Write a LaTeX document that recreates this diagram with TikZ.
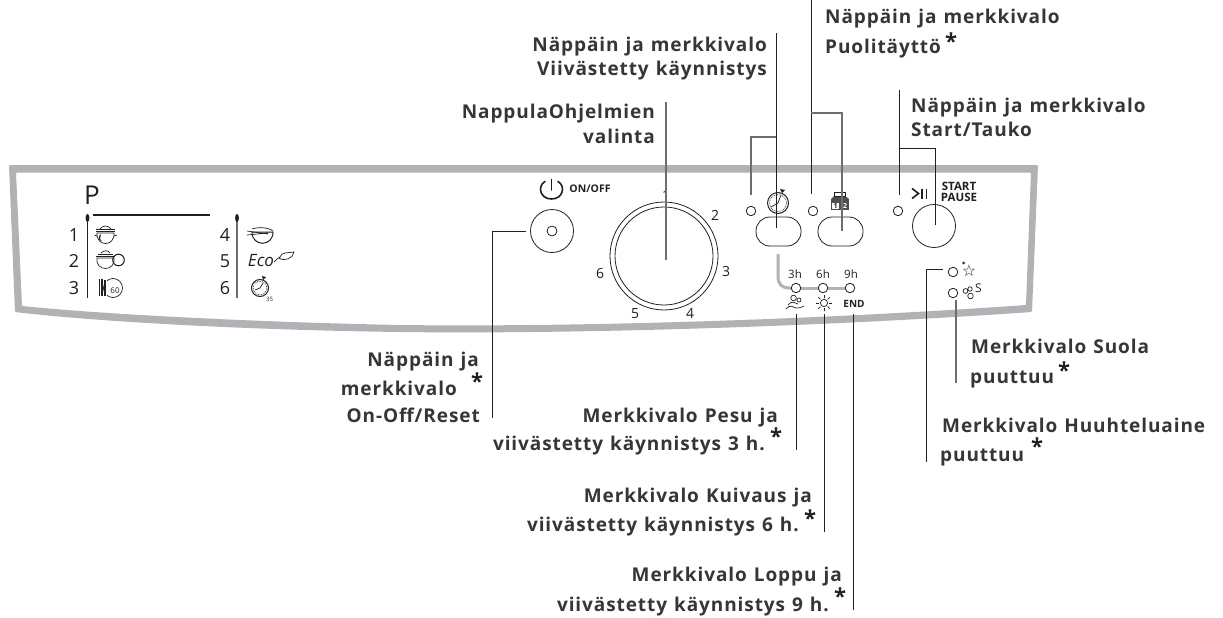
\documentclass[tikz,border=0pt]{standalone}
\usepackage{fontspec}
\setmainfont{Open Sans}
\newfontfamily\lab[LetterSpace=4.8,WordSpace=1.2]{Open Sans}
\usetikzlibrary{calc}
\definecolor{panelgray}{HTML}{B1B2B5}
\definecolor{ink}{HTML}{231F20}
\definecolor{leadgray}{HTML}{6E6E70}
\tikzset{
 x=1pt,y=-1pt,
 lead/.style={draw=ink,line width=1pt},
 leadg/.style={draw=leadgray,line width=1.2pt},
 ring/.style={circle,draw=ink,line width=.8pt,inner sep=0,fill=none},
 led/.style={ring,minimum size=9.5pt},
 pill/.style={draw=ink,line width=.8pt,rounded corners=14pt,minimum width=45pt,minimum height=29pt,inner sep=0},
 lbl/.style={font=\lab\fontsize{19}{19}\selectfont\bfseries,text=ink!90,inner sep=0,anchor=base west},
 lblr/.style={lbl,anchor=base east},
 starmark/.style={font=\fontsize{22}{22}\selectfont\bfseries,text=ink,inner sep=0,anchor=base},
 num/.style={font=\fontsize{14}{14}\selectfont,text=ink,inner sep=0},
 bignum/.style={font=\fontsize{18}{18}\selectfont,text=ink,inner sep=0},
 sm/.style={font=\fontsize{11.5}{11.5}\selectfont,text=ink,inner sep=0},
 tiny/.style={font=\fontsize{10}{10}\selectfont\bfseries,text=ink,inner sep=0},
 ic/.style={draw=ink,line width=.7pt,fill=none},
}
\begin{document}
\begin{tikzpicture}
\useasboundingbox (0,0) rectangle (1223,618);
\fill[white] (0,0) rectangle (1223,618);
% panel
\fill[panelgray,even odd rule,rounded corners=1pt]
 (9,165) -- (1038,165) -- (1032,312) .. controls (800,328) and (560,334) .. (400,332) .. controls (250,330) and (100,322) .. (15,312) -- cycle
 (16,172.5) -- (22,306) .. controls (100,314) and (250,322) .. (400,325) .. controls (560,327) and (800,321) .. (1026,305) -- (1031,172.5) -- cycle;
% program list
\node[inner sep=0,font=\fontsize{26}{26}\selectfont,text=ink] (P) at (92,195) {P};
\draw[ink,line width=2pt] (93,215) -- (210,215);
\draw[ink,line width=1pt] (87.5,216) -- (87.5,298);
\fill[ink] (87.5,218) ellipse (1.9 and 4);
\draw[leadgray,line width=1.2pt] (237,216) -- (237,298);
\fill[ink] (237,218) ellipse (1.9 and 4);
\node[bignum] (n1) at (74,235) {1};
\node[bignum] (n2) at (74,261) {2};
\node[bignum] (n3) at (74,288) {3};
\node[bignum] (n4) at (225,235) {4};
\node[bignum] (n5) at (225,261) {5};
\node[bignum] (n6) at (225,288) {6};
% pot 1
\draw[ic] (97,233) .. controls (96,247) and (115,247) .. (114,233) -- cycle;
\draw[ic] (96,231) -- (115,231) (96,229.5) -- (115,229.5);
\draw[ic] (100,229) .. controls (103,225) and (108,225) .. (111,229);
\draw[ic] (97,236) -- (94.5,235) (114,236) -- (117,235);
\fill[ink] (99,236) -- (101,234) -- (100,239) -- (102,241) -- (99,240) -- cycle;
% pot 2
\draw[ic] (97,258) .. controls (95,272) and (116,272) .. (114,258) -- cycle;
\draw[ic] (96,256) -- (115,256) (98,254) -- (113,254);
\draw[ic] (101,253) .. controls (104,250) and (108,250) .. (110,253);
\draw[ic,line width=1pt] (118.5,260) circle (5.8);
% plate 60
\draw[ic] (113,288) circle (9.5);
\fill[white] (104,278) rectangle (107,298);
\draw[ic,line width=1.1pt] (99.5,279) -- (99.5,296) (102,279) -- (102,296);
\draw[ic,line width=1.1pt] (105,280) -- (105,296);
\node[font=\fontsize{8}{8}\selectfont,text=ink,inner sep=0] (t60) at (115,291) {60};
% whisk bowl
\draw[ic,line width=1pt] (252,232) .. controls (252,247) and (273,247) .. (273,232) -- (252,232);
\draw[ic] (252,229) .. controls (258,227) and (268,227) .. (273,231);
\draw[ic] (247,231) -- (268,234) (247,235) -- (268,233);
% Eco
\node[font=\itshape\fontsize{17}{17}\selectfont,text=ink,inner sep=0] (eco) at (261,261) {Eco};
\draw[ic] (274,262) .. controls (276,260) and (277,259) .. (280,257) .. controls (281,252) and (288,253) .. (294,252) .. controls (293,258) and (285,262) .. (279,258);
% timer 35
\draw[ic,line width=1pt] (260,288) circle (8.5);
\draw[ic,densely dotted] (260,288) circle (6.8);
\draw[ic] (260,288) -- (263,283) (260,288) -- (255,290);
\fill[ink] (262,276) -- (266,277) -- (263,280) -- cycle;
\node[font=\fontsize{6}{6}\selectfont,text=ink,inner sep=0] (t35) at (269.5,299) {35};
% power
\node[ring,minimum size=43pt] (onoff) at (552,231) {};
\node[ring,minimum size=10pt] (onoffin) at (552,231) {};
\draw[ink,line width=1.6pt,line cap=round] (545,181.5) .. controls (537,186) and (540,199) .. (551.5,199) .. controls (563,199) and (566,186) .. (558,181.5);
\draw[ink,line width=1.6pt,line cap=round] (551.5,179.5) -- (551.5,190);
\node[font=\fontsize{10.5}{10.5}\selectfont\bfseries,text=ink,inner sep=0] (ontxt) at (590,188.5) {ON/OFF};
% selector
\node[ring,minimum size=108pt] (knob) at (664,256) {};
\node[ring,minimum size=98pt] (knobin) at (664,256) {};
\node[num] (k1) at (666,196) {1};
\node[num] (k2) at (715,215) {2};
\node[num] (k3) at (726,271) {3};
\node[num] (k4) at (690,313) {4};
\node[num] (k5) at (635,314) {5};
\node[num] (k6) at (600,273) {6};
% buttons
\node[led] (ledA) at (751,211) {};
\node[led] (ledB) at (813,211) {};
\node[led] (ledC) at (898,211) {};
\node[pill] (pillA) at (778.5,231.5) {};
\node[pill] (pillB) at (840.5,231.5) {};
\node[ring,minimum size=43pt] (start) at (934,226) {};
% timer icon
\draw[ic,line width=1pt] (778,203) circle (10.5);
\draw[ic,densely dotted,line width=.7pt] (778,203) circle (8.5);
\draw[ic] (778,203) -- (781,195) (778,203) -- (771,207);
\fill[ink] (780,189) -- (785,190) -- (782,193) -- cycle;
% half-load icon
\fill[ink!80] (831,199) rectangle (849,210);
\fill[ink!80] (831,199) -- (834,196) -- (845,196) -- (849,199) -- cycle;
\draw[ic] (834.5,196) rectangle (845.5,192.5);
\fill[white] (832,203) rectangle (839,209);
\node[font=\fontsize{7}{7}\selectfont\bfseries,text=white,inner sep=0] (half2) at (845,206) {2};
\node[font=\fontsize{7}{7}\selectfont\bfseries,text=ink,inner sep=0] (half1) at (835.5,206) {1};
% start icon
\draw[ink,line width=1.6pt] (912,188.5) -- (918.5,193.5) -- (912,198.5);
\draw[ink,line width=1.1pt] (922,188.5) -- (922,198.5) (926.5,188.5) -- (926.5,198.5);
\node[text width=44pt,align=center,inner sep=0,text=ink,font=\fontsize{11.5}{11.5}\selectfont\bfseries] (sp) at (959,192) {START\\PAUSE};
% delay lights
\draw[panelgray,line width=3pt] (778,254) -- (778,276) .. controls (778,285) and (782,288) .. (790,288);
\draw[panelgray,line width=3pt] (790,288) -- (846,288);
\node[led,fill=white] (l3) at (796,288) {};
\node[led,fill=white] (l6) at (823,288) {};
\node[led,fill=white] (l9) at (850,288) {};
\node[sm] (t3) at (795,274.5) {3h};
\node[sm] (t6) at (823,274.5) {6h};
\node[sm] (t9) at (851,274.5) {9h};
\node[tiny] (endt) at (854,303.5) {END};
% wash icon
\draw[ic] (786,309) .. controls (790,304) and (793,307) .. (796,308) .. controls (799,309) and (801,307) .. (804,306);
\draw[ic] (788,305) .. controls (792,300) and (795,303) .. (798,304);
\draw[ic] (793.5,298) circle (2.8) (799,300) circle (2) ;
% sun
\draw[ic] (824,303) circle (3.6);
\foreach \a in {0,45,...,315}{\draw[ic] ($(824,303)+(\a:5)$) -- ($(824,303)+(\a:8)$);}
% right lights
\node[led] (ledS) at (953,272) {};
\node[led] (ledR) at (953,293) {};
\node[font=\fontsize{16}{16}\selectfont,text=ink,inner sep=0] (starn) at (969,271) {\fontspec{DejaVu Sans}☆};
\draw[ic] (963.5,263) circle (1);
\draw[ic] (965.5,291) circle (2.4) (970,289) circle (2.2) (970.5,296) circle (2.8);
\node[font=\fontsize{12}{12}\selectfont,text=ink,inner sep=0] (ss) at (978.5,288) {S};
% coordinates for leads
\coordinate (a0) at (776,33);
\coordinate (a1) at (776,137);
\coordinate (a2) at (751,137);
\coordinate (a3) at (751,195);
\coordinate (a4) at (776,228);
\coordinate (b0) at (811,0);
\coordinate (b1) at (811,113);
\coordinate (b2) at (842,113);
\coordinate (b3) at (842,231);
\coordinate (b4) at (811,194);
\coordinate (c0) at (899,90);
\coordinate (c1) at (899,148);
\coordinate (c2) at (935,148);
\coordinate (c3) at (935,225);
\coordinate (c4) at (899,195);
\coordinate (d0) at (666,102);
\coordinate (d1) at (666,260);
\coordinate (e0) at (526,231);
\coordinate (e1) at (492,231);
\coordinate (e2) at (492,418);
\coordinate (f0) at (796,314);
\coordinate (f1) at (796,450);
\coordinate (g0) at (824,314);
\coordinate (g1) at (824,532);
\coordinate (h0) at (853,314);
\coordinate (h1) at (853,610);
\coordinate (i0) at (943,269);
\coordinate (i1) at (926,269);
\coordinate (i2) at (926,462);
\coordinate (j0) at (956,300);
\coordinate (j1) at (956,383);
\draw[lead] (a0) -- (a4);
\draw[leadg] (a1) -- (a2) -- (a3);
\draw[lead] (b0) -- (b4);
\draw[leadg] (b1) -- (b2) -- (b3);
\draw[lead] (c0) -- (c4);
\draw[lead] (c1) -- (c2) -- (c3);
\draw[leadg] (d0) -- (d1);
\draw[lead] (e0) -- (e1) -- (e2);
\draw[lead] (f0) -- (f1);
\draw[lead] (g0) -- (g1);
\draw[lead] (h0) -- (h1);
\draw[lead] (i0) -- (i1) -- (i2);
\draw[leadg] (j0) -- (j1);
% labels
\node[lblr] (l1a) at (767,52) {Näppäin ja merkkivalo};
\node[lblr] (l1b) at (767,75) {Viivästetty käynnistys};
\node[lbl] (l2a) at (825,24) {Näppäin ja merkkivalo};
\node[lbl] (l2b) at (825,53) {Puolitäyttö};
\node[starmark] (s2) at (951,49.4) {*};
\node[lbl] (l3a) at (911,112) {Näppäin ja merkkivalo};
\node[lbl] (l3b) at (911,136) {Start/Tauko};
\node[lblr] (l4a) at (655,118) {NappulaOhjelmien};
\node[lblr] (l4b) at (655,143) {valinta};
\node[lblr] (l5a) at (479,366) {Näppäin ja};
\node[lblr] (l5b) at (457,395) {merkkivalo};
\node[starmark] (s5) at (477,389.4) {*};
\node[lblr] (l5c) at (480,422) {On-Off/Reset};
\node[lblr] (l6a) at (778,422) {Merkkivalo Pesu ja};
\node[lblr] (l6b) at (765,450) {viivästetty käynnistys 3 h.};
\node[starmark] (s6) at (776,444.4) {*};
\node[lblr] (l7a) at (812,502) {Merkkivalo Kuivaus ja};
\node[lblr] (l7b) at (799,531) {viivästetty käynnistys 6 h.};
\node[starmark] (s7) at (810,526.4) {*};
\node[lblr] (l8a) at (842,581) {Merkkivalo Loppu ja};
\node[lblr] (l8b) at (829,611) {viivästetty käynnistys 9 h.};
\node[starmark] (s8) at (840,604.4) {*};
\node[lbl] (l9a) at (971,353) {Merkkivalo Suola};
\node[lbl] (l9b) at (970,383) {puuttuu};
\node[starmark] (s9) at (1064,378.4) {*};
\node[lbl] (l10a) at (942,432) {Merkkivalo Huuhteluaine};
\node[lbl] (l10b) at (940,461) {puuttuu};
\node[starmark] (s10) at (1037,454.4) {*};
\end{tikzpicture}
\end{document}
